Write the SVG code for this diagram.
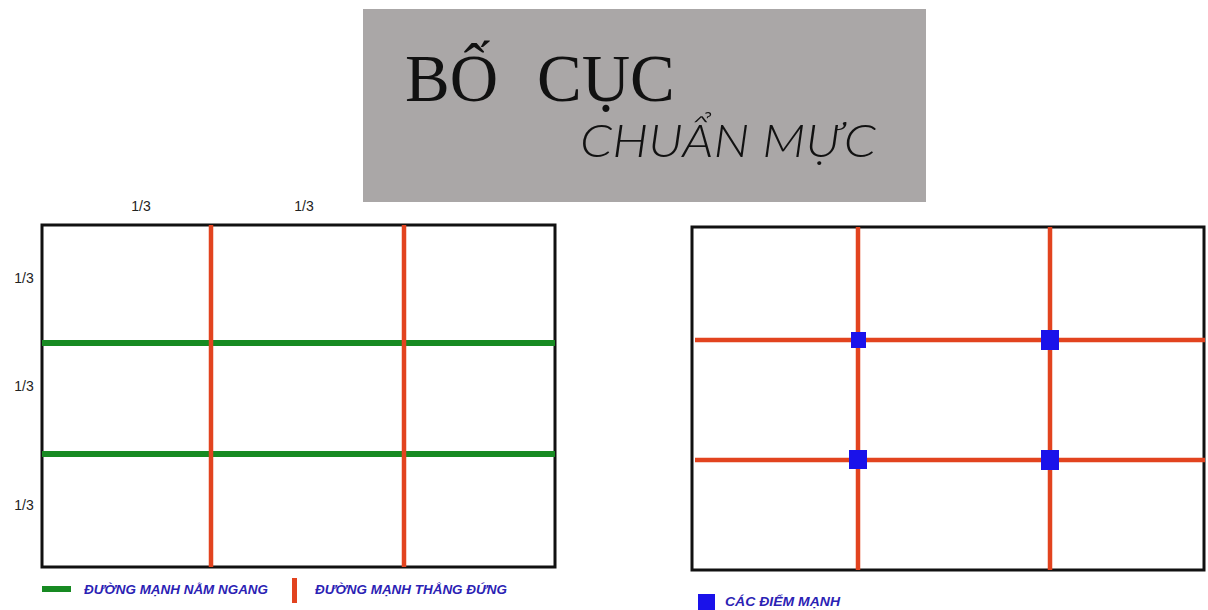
<svg xmlns="http://www.w3.org/2000/svg" width="1208" height="610" viewBox="0 0 1208 610">
<style>
.frame{fill:none;stroke:#111;stroke-width:3}
.red{stroke:#e2431f;stroke-width:4.5}
.green{stroke:#178a22;stroke-width:6}
.pt{fill:#1a12ea}
.frac{font-family:"Liberation Sans",Arial,sans-serif;font-size:14px;fill:#222;text-anchor:middle}
.leg{font-family:"Liberation Sans",Arial,sans-serif;font-size:12.5px;font-weight:bold;font-style:italic;fill:#2b22b4}
</style>
<rect width="1208" height="610" fill="#fff"/>
<g id="title">
<rect x="363" y="9" width="563" height="193" fill="#aaa7a7"/>
<text x="405" y="101" font-family="'Liberation Serif','Times New Roman',serif" font-size="67" fill="#111">BỐ</text>
<text x="537" y="101" font-family="'Liberation Serif','Times New Roman',serif" font-size="67" fill="#111">CỤC</text>
<text x="580" y="157" font-family="Lato,'Open Sans',sans-serif" font-weight="300" font-style="italic" font-size="45" fill="#111" textLength="296" lengthAdjust="spacingAndGlyphs">CHUẨN MỰC</text>
</g>
<g id="left-grid">
<rect class="frame" x="42" y="225" width="513" height="342" fill="#fff"/>
<line class="green" x1="42" y1="343" x2="555" y2="343"/>
<line class="green" x1="42" y1="454" x2="555" y2="454"/>
<line class="red" x1="211" y1="225" x2="211" y2="567"/>
<line class="red" x1="404" y1="225" x2="404" y2="567"/>
<text class="frac" x="141" y="211">1/3</text>
<text class="frac" x="304" y="211">1/3</text>
<text class="frac" x="24" y="283">1/3</text>
<text class="frac" x="24" y="391">1/3</text>
<text class="frac" x="24" y="510">1/3</text>
</g>
<g id="left-legend">
<rect x="42" y="586" width="29" height="6" fill="#178a22"/>
<text class="leg" x="84" y="594" textLength="184" lengthAdjust="spacingAndGlyphs">ĐƯỜNG MẠNH NẰM NGANG</text>
<rect x="292" y="578" width="5" height="25" fill="#e2431f"/>
<text class="leg" x="315" y="594" textLength="192" lengthAdjust="spacingAndGlyphs">ĐƯỜNG MẠNH THẲNG ĐỨNG</text>
</g>
<g id="right-grid">
<rect class="frame" x="692" y="227" width="512" height="343" fill="#fff"/>
<line class="red" x1="695" y1="340" x2="1205" y2="340"/>
<line class="red" x1="695" y1="460" x2="1205" y2="460"/>
<line class="red" x1="858" y1="227" x2="858" y2="570"/>
<line class="red" x1="1050" y1="227" x2="1050" y2="570"/>
</g>
<g id="points">
<rect class="pt" x="851" y="332" width="15" height="16"/>
<rect class="pt" x="1041" y="330" width="18" height="20"/>
<rect class="pt" x="849" y="450" width="18" height="19"/>
<rect class="pt" x="1041" y="450" width="18" height="20"/>
</g>
<g id="right-legend">
<rect class="pt" x="698" y="594" width="17" height="16"/>
<text class="leg" x="725" y="606" textLength="115" lengthAdjust="spacingAndGlyphs">CÁC ĐIỂM MẠNH</text>
</g>
</svg>
